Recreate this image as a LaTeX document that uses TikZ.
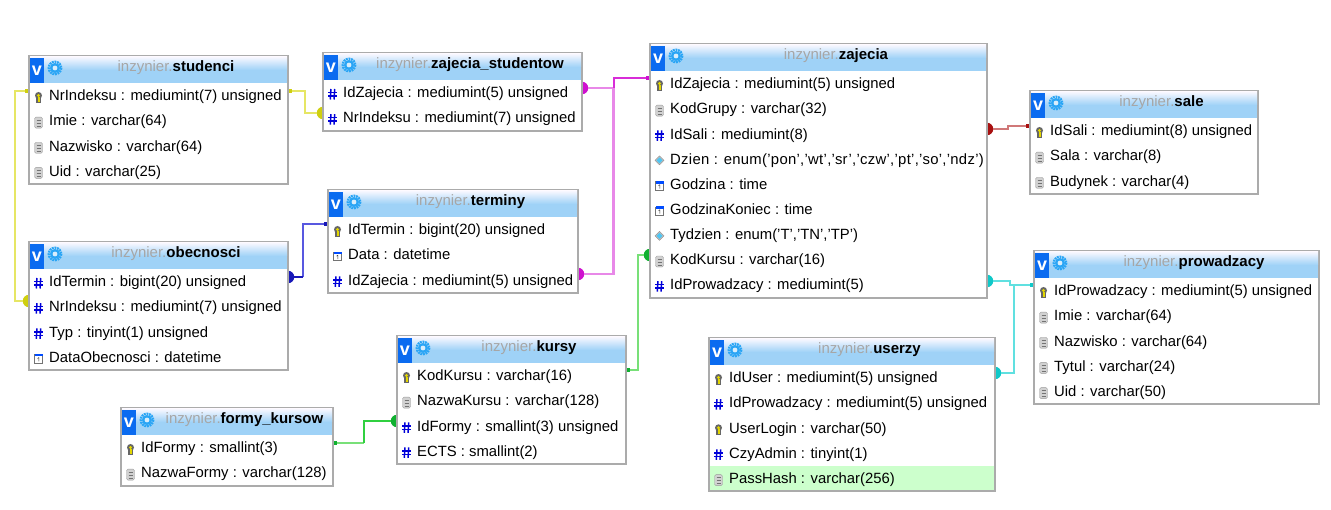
\documentclass[tikz,border=0pt]{standalone}
\usepackage{fontspec}
\setmainfont{Liberation Sans}
\usetikzlibrary{backgrounds}
\definecolor{tableedge}{HTML}{ABABAB}
\definecolor{headblue}{HTML}{9FD2F7}
\definecolor{vblue}{HTML}{0A6BF0}
\definecolor{gearblue}{HTML}{2AA5F5}
\definecolor{titlegrey}{HTML}{A6A6A6}
\definecolor{rowgreen}{HTML}{CCFFCC}
% connector colours
\definecolor{yellowend}{HTML}{CFCF10}
\definecolor{yellowline}{HTML}{E6E664}
\definecolor{violetend}{HTML}{CF10CF}
\definecolor{violetdark}{HTML}{D82CD8}
\definecolor{violetline}{HTML}{E888E8}
\definecolor{blueend}{HTML}{1818B8}
\definecolor{blueline}{HTML}{5858E0}
\definecolor{greenend}{HTML}{10B030}
\definecolor{greendark}{HTML}{30D040}
\definecolor{greenline}{HTML}{78E078}
\definecolor{redend}{HTML}{A81010}
\definecolor{redline}{HTML}{D07878}
\definecolor{cyanend}{HTML}{10C8C8}
\definecolor{cyanline}{HTML}{60E0E0}
% field icons
\newcommand{\ickey}{
	\fill[black!60] (-2.6,1) rectangle (2.6,6);
	\fill[black!60] (0,-1.5) circle (3.5);
	\fill[yellow!75!olive] (-1,0) rectangle (1,5);
	\fill[yellow!75!olive] (0,-1.5) circle (1.7);
}
\newcommand{\icdoc}{
	\draw[black!40, fill=black!18, rounded corners=1.5] (-4,-5) rectangle (4,6);
	\foreach \l in {-2,1,4}
		\draw[black!55] (-2,\l) -- (2,\l);
}
\newcommand{\ichash}{
	\draw[blue!85!black, line width=1.5] (-1.6,-5) -- (-2.2,5.5) (2.2,-5) -- (1.6,5.5);
	\draw[blue!85!black, line width=1.5] (-4.5,-1.5) -- (4.5,-1.5) (-4.5,2) -- (4.5,2);
}
\newcommand{\icenum}{
	\draw[black!45, fill=black!25] (0,-4.5) -- (4.5,0) -- (0,4.5) -- (-4.5,0) -- cycle;
	\fill[cyan!70!white] (0,-3) -- (3,0) -- (0,3) -- (-3,0) -- cycle;
}
\newcommand{\icdate}{
	\draw[black!55, fill=white] (-4,-4) rectangle (4,4.5);
	\fill[blue!70!cyan] (-4,-4.5) rectangle (4,-2);
	\draw[black!80] (0.3,-1) -- (0.3,3) (-1,0) -- (0.3,-1);
}
% table frame and title
\newcommand{\dbhead}[6]{
	\node at (#2, #3) [tablebox, minimum width=#4, minimum height=#5] (#1) {};
	\shade[top color=blue!3, bottom color=headblue] (#2+1, #3+1) rectangle (#2+#4-1, #3+14);
	\fill[headblue] (#2+1, #3+14) rectangle (#2+#4-1, #3+27);
	\fill[vblue] (#2+1, #3+2) rectangle (#2+15, #3+27);
	\node at (#2+8, #3+14.5) [vmark] (#1_v) {v};
	\draw[gearblue, line width=2.4, dash pattern=on 1.8 off 0.8] (#2+26, #3+12) circle (6.2);
	\fill[gearblue] (#2+26, #3+12) circle (5);
	\fill[white!60!headblue] (#2+26, #3+12) circle (2.4);
	\node at (#2+34+#4/2-16.5, #3+12) [tabletitle] (#1_title) {\textcolor{titlegrey}{inzynier.}\textbf{#6}};
}
% table rows
\newcommand{\dbrows}[4]{
	\foreach \ic/\txt [count=\i] in {#4}{
		\begin{scope}[shift={(#2+9.5, #3+41+\i*25.15-25.15)}]
			\csname ic\ic\endcsname
		\end{scope}
		\node at (#2+20, #3+41+\i*25.15-25.15) [fieldrow] (#1_\i) {\txt};
	}
}
\begin{document}
\begin{tikzpicture}[x=1pt, y=-1pt]
	\tikzstyle{tablebox}=[draw=tableedge, fill=white, line width=1.4, anchor=north west, inner sep=0, outer sep=0]
	\tikzstyle{vmark}=[text=white, font=\fontsize{18}{18}\selectfont\bfseries, inner sep=0]
	\tikzstyle{tabletitle}=[font=\fontsize{15}{17}\selectfont, inner sep=0]
	\tikzstyle{fieldrow}=[anchor=west, font=\fontsize{14.85}{16}\selectfont, inner sep=0, text height=10.5, text depth=3]
	\tikzstyle{fkend}=[circle, inner sep=0, minimum size=12.5]
	\tikzstyle{pkend}=[rectangle, inner sep=0, minimum size=4.5]
	\tikzstyle{lightlink}=[line width=2.8]
	\tikzstyle{darklink}=[line width=2]
	\useasboundingbox (0,0) rectangle (1331,510);
	% Tables
	\dbhead{studenci}{29}{56}{259}{128}{studenci}
	\dbrows{studenci}{29}{56}{key/{NrIndeksu : mediumint(7) unsigned}, doc/{Imie : varchar(64)}, doc/{Nazwisko : varchar(64)}, doc/{Uid : varchar(25)}}
	\dbhead{zajecia_studentow}{323}{53}{259}{78}{zajecia\_studentow}
	\dbrows{zajecia_studentow}{323}{53}{hash/{IdZajecia : mediumint(5) unsigned}, hash/{NrIndeksu : mediumint(7) unsigned}}
	\dbhead{terminy}{328}{190}{250}{103}{terminy}
	\dbrows{terminy}{328}{190}{key/{IdTermin : bigint(20) unsigned}, date/{Data : datetime}, hash/{IdZajecia : mediumint(5) unsigned}}
	\dbhead{obecnosci}{29}{242}{259}{128}{obecnosci}
	\dbrows{obecnosci}{29}{242}{hash/{IdTermin : bigint(20) unsigned}, hash/{NrIndeksu : mediumint(7) unsigned}, hash/{Typ : tinyint(1) unsigned}, date/{DataObecnosci : datetime}}
	\dbhead{kursy}{397}{336}{229}{128}{kursy}
	\dbrows{kursy}{397}{336}{key/{KodKursu : varchar(16)}, doc/{NazwaKursu : varchar(128)}, hash/{IdFormy : smallint(3) unsigned}, hash/{ECTS : smallint(2)}}
	\dbhead{formy_kursow}{121}{408}{212}{78}{formy\_kursow}
	\dbrows{formy_kursow}{121}{408}{key/{IdFormy : smallint(3)}, doc/{NazwaFormy : varchar(128)}}
	\dbhead{zajecia}{650}{44}{337}{254}{zajecia}
	\dbrows{zajecia}{650}{44}{key/{IdZajecia : mediumint(5) unsigned}, doc/{KodGrupy : varchar(32)}, hash/{IdSali : mediumint(8)}, enum/{\addfontfeature{LetterSpace=2}Dzien : enum('pon','wt','sr','czw','pt','so','ndz')}, date/{Godzina : time}, date/{GodzinaKoniec : time}, enum/{Tydzien : enum('T','TN','TP')}, doc/{KodKursu : varchar(16)}, hash/{IdProwadzacy : mediumint(5)}}
	\dbhead{sale}{1030}{91}{228}{103}{sale}
	\dbrows{sale}{1030}{91}{key/{IdSali : mediumint(8) unsigned}, doc/{Sala : varchar(8)}, doc/{Budynek : varchar(4)}}
	\dbhead{prowadzacy}{1034}{251}{285}{153}{prowadzacy}
	\dbrows{prowadzacy}{1034}{251}{key/{IdProwadzacy : mediumint(5) unsigned}, doc/{Imie : varchar(64)}, doc/{Nazwisko : varchar(64)}, doc/{Tytul : varchar(24)}, doc/{Uid : varchar(50)}}
	\dbhead{userzy}{709}{338}{286}{153}{userzy}
	\fill[rowgreen] (710,466) rectangle (994,490);
	\dbrows{userzy}{709}{338}{key/{IdUser : mediumint(5) unsigned}, hash/{IdProwadzacy : mediumint(5) unsigned}, key/{UserLogin : varchar(50)}, hash/{CzyAdmin : tinyint(1)}, doc/{PassHash : varchar(256)}}
	%---------------------%
	\begin{pgfonlayer}{background}
		% studenci -> obecnosci
		\node at (27.5, 91) [pkend, fill=yellowend] (pk_studenci_left) {};
		\node at (29, 301) [fkend, fill=yellowend] (fk_obecnosci) {};
		\draw[lightlink, yellowline] (pk_studenci_left) -- (15,0 |- pk_studenci_left) -- (15,0 |- fk_obecnosci) -- (fk_obecnosci);
		% studenci -> zajecia_studentow
		\node at (289.5, 91) [pkend, fill=yellowend] (pk_studenci_right) {};
		\node at (323, 113) [fkend, fill=yellowend] (fk_studentow) {};
		\draw[lightlink, yellowline] (pk_studenci_right) -- (305,0 |- pk_studenci_right) -- (305,0 |- fk_studentow) -- (fk_studentow);
		% zajecia -> zajecia_studentow
		\node at (648.5, 78) [pkend, fill=violetend] (pk_zajecia) {};
		\node at (582, 88) [fkend, fill=violetend] (fk_zajecia_studentow) {};
		\draw[lightlink, violetline] (614,0 |- fk_zajecia_studentow) -- (fk_zajecia_studentow);
		% zajecia -> terminy
		\node at (578, 274) [fkend, fill=violetend] (fk_terminy) {};
		\draw[lightlink, violetline] (fk_terminy) -- (613.5,0 |- fk_terminy) -- (613.5,0 |- fk_zajecia_studentow);
		\draw[darklink, violetdark] (pk_zajecia) -- (614,0 |- pk_zajecia) -- (614,0 |- fk_zajecia_studentow);
		% terminy -> obecnosci
		\node at (326.5, 224) [pkend, fill=blueend] (pk_terminy) {};
		\node at (288, 277) [fkend, fill=blueend] (fk_obecnosci_termin) {};
		\draw[lightlink, blueline] (pk_terminy) -- (303,0 |- pk_terminy) -- (303,0 |- fk_obecnosci_termin);
		\draw[lightlink, blueend] (303,0 |- fk_obecnosci_termin) -- (fk_obecnosci_termin);
		% kursy -> zajecia
		\node at (627.5, 370) [pkend, fill=greenend] (pk_kursy) {};
		\node at (650, 255) [fkend, fill=greenend] (fk_zajecia) {};
		\draw[lightlink, greenline] (pk_kursy) -- (638,0 |- pk_kursy) -- (638,0 |- fk_zajecia) -- (fk_zajecia);
		% formy_kursow -> kursy
		\node at (334.5, 443) [pkend, fill=greenend] (pk_formy) {};
		\node at (397, 421) [fkend, fill=greenend] (fk_kursy) {};
		\draw[lightlink, greenline] (pk_formy) -- (364,0 |- pk_formy);
		\draw[darklink, greendark] (364,0 |- pk_formy) -- (364,0 |- fk_kursy) -- (fk_kursy);
		% sale -> zajecia
		\node at (1028.5, 126) [pkend, fill=redend] (pk_sale) {};
		\node at (987, 129) [fkend, fill=redend] (fk_zajecia_sala) {};
		\draw[lightlink, redline] (pk_sale) -- (1008,0 |- pk_sale) -- (1008,0 |- fk_zajecia_sala) -- (fk_zajecia_sala);
		% prowadzacy -> zajecia
		\node at (1032.5, 285) [pkend, fill=cyanend] (pk_prowadzacy) {};
		\node at (987, 281) [fkend, fill=cyanend] (fk_zajecia_prow) {};
		\draw[lightlink, cyanline] (pk_prowadzacy) -- (1010,0 |- pk_prowadzacy) -- (1010,0 |- fk_zajecia_prow) -- (fk_zajecia_prow);
		% prowadzacy -> userzy
		\node at (995, 373) [fkend, fill=cyanend] (fk_userzy) {};
		\draw[lightlink, cyanline] (fk_userzy) -- (1014,0 |- fk_userzy) -- (1014,0 |- pk_prowadzacy);
	\end{pgfonlayer}
\end{tikzpicture}
\end{document}
